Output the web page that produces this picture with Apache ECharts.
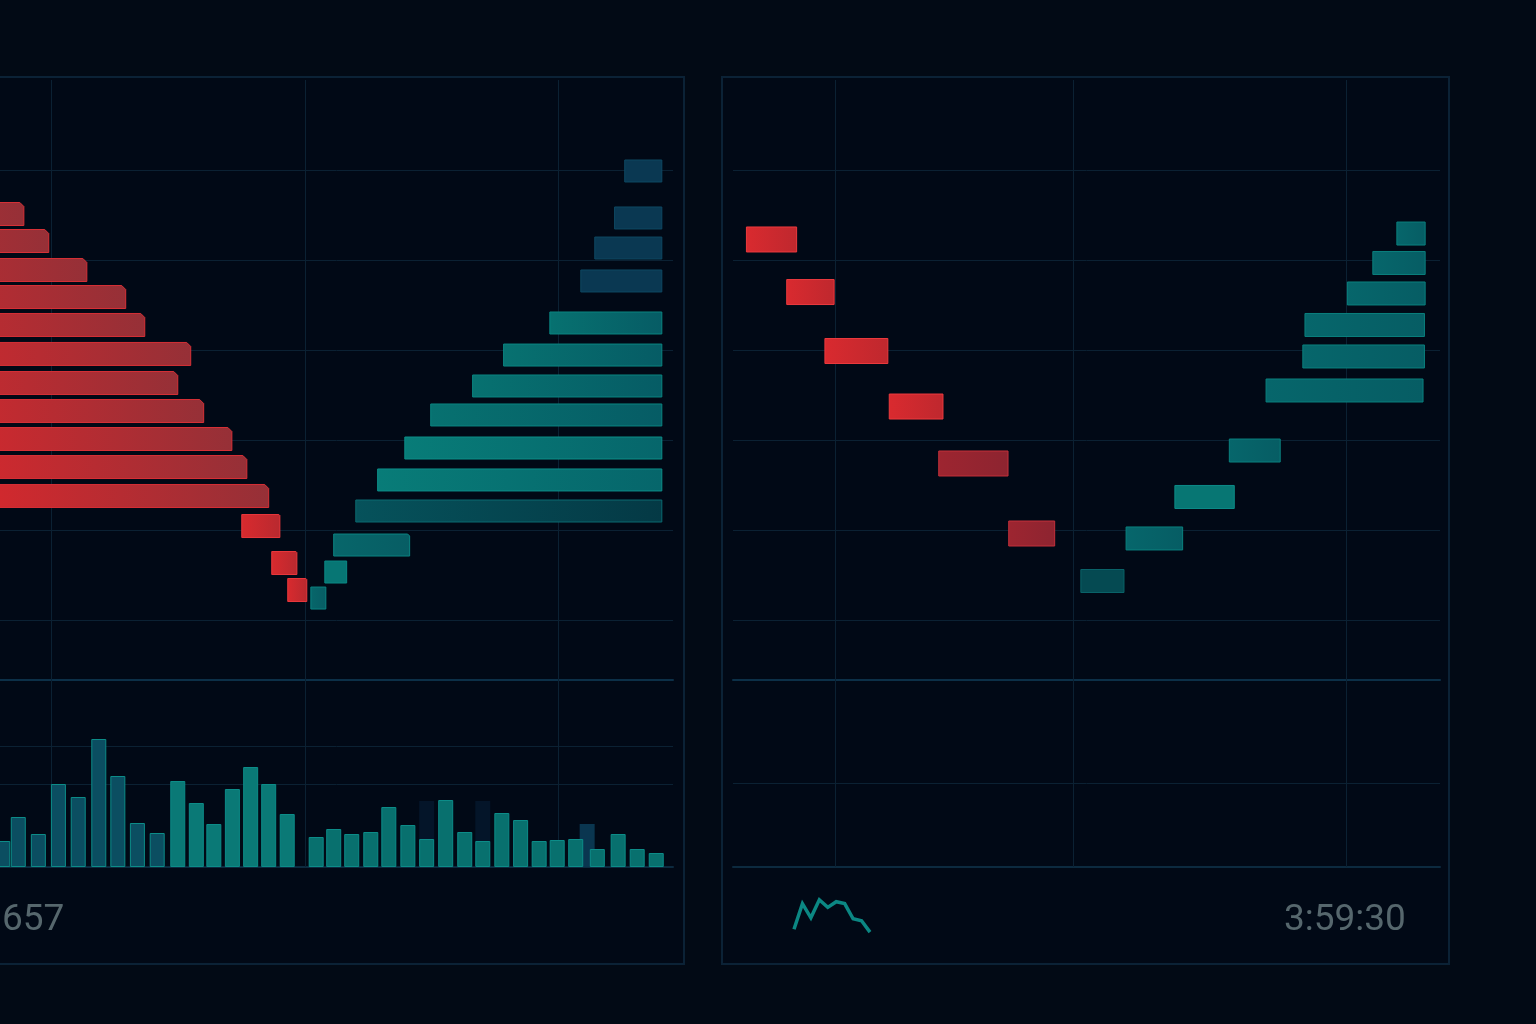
<!DOCTYPE html>
<html>
<head>
<meta charset="utf-8">
<script src="https://cdn.jsdelivr.net/npm/echarts@6/dist/echarts.min.js"></script>
<style>
  html, body { margin: 0; padding: 0; background: #020a15; }
  #chart { width: 1536px; height: 1024px; }
</style>
</head>
<body>
<div id="chart"></div>
<script>
// ---------------- DATA ----------------
// Left panel: depth ladder (x = depth units, y = price level units)
const bidLevel = [148.9, 178.9, 211.1, 241.1, 272.2, 304.4, 336.7, 367.8, 398.9, 430.0, 462.2, 495.6, 536.7, 566.7];
const bidStart = [-40, -40, -40, -40, -40, -40, -40, -40, -40, -40, -40, 75.2, 87.0, 93.3];
const bidEnd   = [-10.6, -0.8, 14.2, 29.5, 37.0, 55.1, 50.0, 60.2, 71.3, 77.2, 85.8, 90.2, 96.9, 100.8];

const askLevel = [101.1, 153.3, 186.7, 223.3, 270.0, 305.6, 340.0, 372.2, 408.9, 444.4, 478.9, 516.7, 546.7, 575.6];
const askStart = [226.0, 222.0, 214.2, 208.7, 196.5, 178.3, 166.1, 149.6, 139.4, 128.7, 120.1, 111.4, 107.9, 102.4];
const askEnd   = [240.6, 240.6, 240.6, 240.6, 240.6, 240.6, 240.6, 240.6, 240.6, 240.6, 240.6, 141.3, 116.5, 108.3];
const depthGuides = [0, 100, 200];

// Left panel: volume bars
const volX = [-18.9, -12.8, -4.9, 3.0, 10.8, 18.9, 26.4, 34.1, 41.9, 50.0, 57.3, 64.2, 71.5, 78.7, 85.8, 93.1,
              104.5, 111.4, 118.5, 126.0, 133.1, 140.6, 148.0, 155.5, 163.0, 170.1, 177.6, 185.0, 192.3, 199.4,
              206.7, 215.2, 223.4, 230.9, 238.4];
const volY = [26, 50, 33, 83, 70, 128, 91, 44, 34, 86, 64, 43, 78, 100, 83, 53,
              30, 38, 33, 35, 60, 42, 28, 67, 35, 26, 54, 47, 26, 27,
              28, 18, 33, 18, 14];
const ghostVolX = [148.0, 170.1, 211.2];
const ghostVolY = [66, 66, 43];
const volGuides = [121, 83];

// Right panel: floating orders
const rBidStart = [1.9, 7.6, 13.0, 22.1, 29.1, 39.0];
const rBidEnd   = [9.0, 14.3, 21.9, 29.7, 38.9, 45.5];
const rBidLevel = [177.2, 235.6, 301.1, 362.8, 426.1, 503.9];
const rAskStart = [93.9, 90.5, 86.9, 80.9, 80.6, 75.4, 70.2, 62.5, 55.6, 49.2];
const rAskEnd   = [97.9, 97.9, 97.9, 97.8, 97.8, 97.6, 77.4, 70.9, 63.6, 55.3];
const rAskLevel = [170.6, 203.3, 237.2, 272.2, 307.2, 345.0, 411.7, 463.3, 509.4, 556.7];
const rTimeGuides = [14.4, 48.1, 86.8];
const rVolGuides = [84];

// Sparkline
const sparkVals = [5, 32, 17, 36, 28, 34, 32, 16, 14, 2];

// Texts
const leftLabel = '657';
const rightLabel = '3:59:30';

// ---------------- BUILD ----------------
const zip3 = (a, b, c) => a.map((v, i) => [v, b[i], c[i]]);
const lg = (x0, x1, c0, c1) => new echarts.graphic.LinearGradient(x0, 0, x1, 0, [{offset: 0, color: c0}, {offset: 1, color: c1}], true);

function makeRender(h, styleFn, chamferFn) {
  return function (params, api) {
    const p0 = api.coord([api.value(0), api.value(2)]);
    const p1 = api.coord([api.value(1), api.value(2)]);
    const x0 = Math.min(p0[0], p1[0]), x1 = Math.max(p0[0], p1[0]);
    const y0 = p0[1] - h / 2, y1 = p0[1] + h / 2;
    const c = chamferFn ? chamferFn(params.dataIndex) : 0;
    return {
      type: 'polygon',
      shape: { points: [[x0, y0], [x1 - c, y0], [x1, y0 + c], [x1, y1], [x0, y1]] },
      style: styleFn(params.dataIndex, Math.max(x0, 0), x1)
    };
  };
}

function leftBidStyle(i, x0, x1) {
  if (i >= 11) return { fill: lg(x0, x1, '#d82a2e', '#b9292f'), stroke: '#e9383c', lineWidth: 1 };
  return { fill: lg(x1 - 300, x1, '#d7282d', '#963037'), stroke: '#d63036', lineWidth: 1 };
}
function leftAskStyle(i, x0, x1) {
  if (i <= 3) return { fill: '#0a3852', stroke: '#0e4862', lineWidth: 1 };
  if (i === 10) return { fill: lg(x0, x1, '#06525b', '#043945'), stroke: '#0a6a70', lineWidth: 1 };
  if (i === 8 || i === 9) return { fill: lg(x0, x1, '#087c78', '#06666b'), stroke: '#0c8e88', lineWidth: 1 };
  if (i === 12) return { fill: '#077674', stroke: '#0b8a85', lineWidth: 1 };
  if (i >= 11) return { fill: lg(x0, x1, '#07666a', '#075d64'), stroke: '#0b8482', lineWidth: 1 };
  return { fill: lg(x0, x1, '#077170', '#065c65'), stroke: '#0a8581', lineWidth: 1 };
}
function rightBidStyle(i, x0, x1) {
  if (i >= 4) return { fill: lg(x0, x1, '#9d2530', '#8d2430'), stroke: '#c3303a', lineWidth: 1 };
  return { fill: lg(x0, x1, '#d92a2f', '#bf282e'), stroke: '#ec3a3e', lineWidth: 1 };
}
function rightAskStyle(i, x0, x1) {
  if (i === 7) return { fill: '#077673', stroke: '#0c8d88', lineWidth: 1 };
  if (i === 9) return { fill: '#054a52', stroke: '#0a6469', lineWidth: 1 };
  return { fill: lg(x0, x1, '#06666b', '#065d64'), stroke: '#0a807e', lineWidth: 1 };
}

const gridLine = '#0b2133';
const noLabel = { show: false };
function guides(list) {
  return { symbol: 'none', silent: true, animation: false, z: 1, label: { show: false },
           lineStyle: { color: gridLine, width: 1, type: 'solid' }, data: list };
}

const option = {
  backgroundColor: '#020a15',
  animation: false,
  grid: [
    { left: 0, width: 673, top: 80, height: 600 },     // left depth
    { left: 0, width: 673, top: 680, height: 187 },    // left volume
    { left: 733, width: 707, top: 80, height: 600 },   // right depth
    { left: 733, width: 707, top: 680, height: 187 },  // right volume
    { left: 794, width: 76, top: 896, height: 38 }     // sparkline
  ],
  xAxis: [
    { gridIndex: 0, type: 'value', min: -20, max: 245,
      axisLine: { show: true, onZero: false, lineStyle: { color: '#0c3048', width: 2 } },
      axisTick: noLabel, axisLabel: noLabel, splitLine: { show: false } },
    { gridIndex: 1, type: 'value', min: -20, max: 245,
      axisLine: { show: true, onZero: false, lineStyle: { color: '#0c2a3f', width: 2 } },
      axisTick: noLabel, axisLabel: noLabel, splitLine: { show: false } },
    { gridIndex: 2, type: 'value', min: 0, max: 100,
      axisLine: { show: true, onZero: false, lineStyle: { color: '#0c3048', width: 2 } },
      axisTick: noLabel, axisLabel: noLabel, splitLine: { show: false } },
    { gridIndex: 3, type: 'value', min: 0, max: 100,
      axisLine: { show: true, onZero: false, lineStyle: { color: '#0c2a3f', width: 2 } },
      axisTick: noLabel, axisLabel: noLabel, splitLine: { show: false } },
    { gridIndex: 4, type: 'category', data: sparkVals.map((v, i) => i), boundaryGap: false, show: false }
  ],
  yAxis: [
    { gridIndex: 0, type: 'value', inverse: true, min: 0, max: 666.67, interval: 100,
      axisLine: { show: false }, axisTick: noLabel, axisLabel: noLabel,
      splitLine: { show: true, showMinLine: false, showMaxLine: false, lineStyle: { color: gridLine, width: 1 } } },
    { gridIndex: 1, type: 'value', min: 0, max: 187,
      axisLine: { show: false }, axisTick: noLabel, axisLabel: noLabel, splitLine: { show: false } },
    { gridIndex: 2, type: 'value', inverse: true, min: 0, max: 666.67, interval: 100,
      axisLine: { show: false }, axisTick: noLabel, axisLabel: noLabel,
      splitLine: { show: true, showMinLine: false, showMaxLine: false, lineStyle: { color: gridLine, width: 1 } } },
    { gridIndex: 3, type: 'value', min: 0, max: 187,
      axisLine: { show: false }, axisTick: noLabel, axisLabel: noLabel, splitLine: { show: false } },
    { gridIndex: 4, type: 'value', min: 0, max: 40, show: false }
  ],
  series: [
    // left depth area guides (vertical)
    { type: 'line', xAxisIndex: 0, yAxisIndex: 0, data: [], z: 1,
      markLine: guides(depthGuides.map(v => ({ xAxis: v }))) },
    // left ghost volume bars
    { type: 'custom', xAxisIndex: 1, yAxisIndex: 1,
      data: ghostVolX.map((x, i) => [x, ghostVolY[i]]),
      renderItem: function (params, api) {
        const top = api.coord([api.value(0), api.value(1)]);
        const base = api.coord([api.value(0), 0]);
        return { type: 'rect', shape: { x: top[0] - 7.5, y: top[1], width: 15, height: base[1] - top[1] },
                 style: { fill: params.dataIndex === 2 ? '#0a3650' : '#041529' } };
      } },
    // left volume bars
    { type: 'bar', xAxisIndex: 1, yAxisIndex: 1, barWidth: 15,
      data: volX.map((x, i) => [x, volY[i]]),
      itemStyle: {
        color: p => p.dataIndex < 9 ? '#0b4e61' : (p.dataIndex < 16 ? '#0a7976' : '#08706e'),
        borderColor: '#0c8c88', borderWidth: 1
      },
      markLine: guides(depthGuides.map(v => ({ xAxis: v })).concat(volGuides.map(v => ({ yAxis: v })))) },
    // left bids
    { type: 'custom', xAxisIndex: 0, yAxisIndex: 0,
      data: zip3(bidStart, bidEnd, bidLevel),
      renderItem: makeRender(23, leftBidStyle, i => (i < 11 ? 4 : 1)) },
    // left asks
    { type: 'custom', xAxisIndex: 0, yAxisIndex: 0,
      data: zip3(askStart, askEnd, askLevel),
      renderItem: makeRender(22, leftAskStyle, i => (i === 11 ? 2 : 0)) },
    // right depth guides
    { type: 'line', xAxisIndex: 2, yAxisIndex: 2, data: [], z: 1,
      markLine: guides(rTimeGuides.map(v => ({ xAxis: v }))) },
    // right bids
    { type: 'custom', xAxisIndex: 2, yAxisIndex: 2,
      data: zip3(rBidStart, rBidEnd, rBidLevel),
      renderItem: makeRender(25, rightBidStyle) },
    // right asks
    { type: 'custom', xAxisIndex: 2, yAxisIndex: 2,
      data: zip3(rAskStart, rAskEnd, rAskLevel),
      renderItem: makeRender(23, rightAskStyle) },
    // right volume area guides
    { type: 'line', xAxisIndex: 3, yAxisIndex: 3, data: [], z: 1,
      markLine: guides(rTimeGuides.map(v => ({ xAxis: v })).concat(rVolGuides.map(v => ({ yAxis: v })))) },
    // sparkline
    { type: 'line', xAxisIndex: 4, yAxisIndex: 4, data: sparkVals, symbol: 'none',
      lineStyle: { color: '#0b8783', width: 3.5, join: 'miter' } }
  ],
  graphic: [
    { type: 'rect', z: -10, shape: { x: -20, y: 77, width: 704, height: 887 },
      style: { fill: '#010916', stroke: '#0b2236', lineWidth: 2 } },
    { type: 'rect', z: -10, shape: { x: 722, y: 77, width: 727, height: 887 },
      style: { fill: '#010916', stroke: '#0b2236', lineWidth: 2 } },
    { type: 'text', left: 2, top: 902,
      style: { text: leftLabel, fill: '#56676d', font: '37px Roboto' } },
    { type: 'text', left: 1284, top: 902,
      style: { text: rightLabel, fill: '#56676d', font: '37px Roboto' } }
  ]
};

const chart = echarts.init(document.getElementById('chart'), null, { renderer: 'canvas' });
chart.setOption(option);
</script>
</body>
</html>
